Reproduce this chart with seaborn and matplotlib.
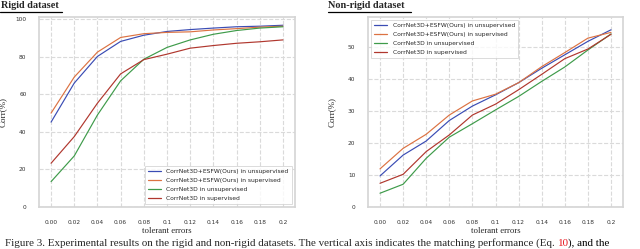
import matplotlib
matplotlib.use("Agg")
import matplotlib.pyplot as plt
from matplotlib.lines import Line2D
import seaborn as sns
import pandas as pd
import numpy as np

tick_labels = ["0.00", "0.02", "0.04", "0.06", "0.08", "0.1", "0.12", "0.14", "0.16", "0.18", "0.2"]
series_names = ["CorrNet3D+ESFW(Ours) in unsupervised",
                "CorrNet3D+ESFW(Ours) in supervised",
                "CorrNet3D in unsupervised",
                "CorrNet3D in supervised"]

rigid_esfw_unsup = [45.2, 66.0, 80.2, 88.2, 91.5, 93.5, 94.5, 95.3, 96.0, 96.3, 96.8]
rigid_esfw_sup = [50.0, 69.2, 82.5, 90.3, 92.3, 93.0, 93.3, 94.3, 95.0, 95.8, 96.3]
rigid_corr_unsup = [13.5, 27.2, 49.0, 67.2, 78.7, 85.0, 89.0, 92.0, 94.0, 95.3, 96.0]
rigid_corr_sup = [23.3, 37.5, 55.3, 70.9, 78.5, 81.4, 84.6, 86.0, 87.2, 88.0, 89.0]

nonrigid_esfw_unsup = [9.7, 16.2, 20.6, 27.0, 31.5, 35.0, 38.8, 43.3, 47.5, 51.7, 55.3]
nonrigid_esfw_sup = [11.9, 18.3, 22.7, 28.7, 33.1, 35.2, 38.8, 43.8, 48.2, 52.7, 54.5]
nonrigid_corr_unsup = [4.3, 7.1, 15.2, 21.8, 26.0, 30.3, 34.5, 39.2, 43.7, 49.0, 54.0]
nonrigid_corr_sup = [7.4, 10.2, 17.3, 22.5, 28.7, 32.1, 36.6, 41.4, 46.3, 49.3, 53.9]

colors = ["#3a4cb4", "#dc7242", "#3e9b4a", "#b0372e"]

sns.set_theme(style="whitegrid", rc={"grid.linestyle": "--", "grid.color": "#dadada",
                                     "axes.edgecolor": "#d4d4d4", "grid.linewidth": 0.8,
                                     "axes.linewidth": 1.2})

def make_df(vals):
    rows = []
    for name, v in zip(series_names, vals):
        for i, y in enumerate(v):
            rows.append({"x": i, "y": y, "series": name})
    return pd.DataFrame(rows)

fig = plt.figure(figsize=(6.4, 2.49), dpi=100)
W, H = 640, 249

def ax_rect(l, r, t, b):
    return [l / W, 1 - b / H, (r - l) / W, (b - t) / H]

ax1 = fig.add_axes(ax_rect(39, 295, 17, 207))
ax2 = fig.add_axes(ax_rect(368, 623, 17, 207))

pal = dict(zip(series_names, colors))
serif = "Liberation Serif"

for ax, vals, ylim, yticks, loc in [
    (ax1, [rigid_esfw_unsup, rigid_esfw_sup, rigid_corr_unsup, rigid_corr_sup], (0, 101.2), [0, 20, 40, 60, 80, 100], "lower right"),
    (ax2, [nonrigid_esfw_unsup, nonrigid_esfw_sup, nonrigid_corr_unsup, nonrigid_corr_sup], (0, 59.3), [0, 10, 20, 30, 40, 50], "upper left"),
]:
    df = make_df(vals)
    sns.lineplot(data=df, x="x", y="y", hue="series", palette=pal, ax=ax, linewidth=0.85, legend=False)
    ax.set_xlim(-0.52, 10.52)
    ax.set_ylim(*ylim)
    ax.set_xticks(range(len(tick_labels)))
    ax.set_xticklabels(tick_labels)
    ax.set_yticks(yticks)
    ax.tick_params(axis="both", labelsize=4.2, pad=3, colors="#333333")
    ax.set_xlabel("tolerant errors", fontfamily=serif, fontsize=6.3, labelpad=2)
    ax.set_ylabel("Corr(%)", fontfamily=serif, fontsize=6.5)
    ax.yaxis.set_label_coords(-32 / 256, 0.5)
    handles = [Line2D([0], [0], color=c, lw=0.9) for c in colors]
    leg = ax.legend(handles, series_names, loc=loc, fontsize=4.3, frameon=True,
                    handlelength=2.2, borderpad=0.55, labelspacing=0.6, handletextpad=0.9,
                    fancybox=False, edgecolor="#cccccc", borderaxespad=0.5)
    leg.get_frame().set_linewidth(0.6)

fig.text(1 / W, 1 - 6 / H, "Rigid dataset", fontfamily=serif, fontweight="bold", fontsize=7.4, va="center", ha="left")
fig.text(328 / W, 1 - 6 / H, "Non-rigid dataset", fontfamily=serif, fontweight="bold", fontsize=7.4, va="center", ha="left")
fig.add_artist(Line2D([0 / W, 62 / W], [1 - 12.5 / H] * 2, color="black", lw=0.9))
fig.add_artist(Line2D([328 / W, 411 / W], [1 - 12.5 / H] * 2, color="black", lw=0.9))

cap_fs = 7.9
t1 = fig.text(5 / W, 1.5 / H, "Figure 3. Experimental results on the rigid and non-rigid datasets. The vertical axis indicates the matching performance (Eq. ",
              fontfamily=serif, fontsize=cap_fs, va="bottom", ha="left")
t2 = fig.text(0, 0, "10", fontfamily=serif, fontsize=cap_fs, va="bottom", ha="left", color="#e8141c",
              transform=matplotlib.transforms.offset_copy(fig.transFigure, fig=fig, x=0, y=0))
t2.remove()
a2 = fig.text(0, 0, "", fontsize=cap_fs)
a2.remove()
ann1 = fig.add_artist(matplotlib.text.Annotation("10", xy=(1, 0), xycoords=t1, va="bottom", ha="left",
                                                 fontfamily=serif, fontsize=cap_fs, color="#e8141c"))
ann2 = fig.add_artist(matplotlib.text.Annotation("), and the", xy=(1, 0), xycoords=ann1, va="bottom", ha="left",
                                                 fontfamily=serif, fontsize=cap_fs, color="black"))

fig.savefig("out.png", dpi=100)
